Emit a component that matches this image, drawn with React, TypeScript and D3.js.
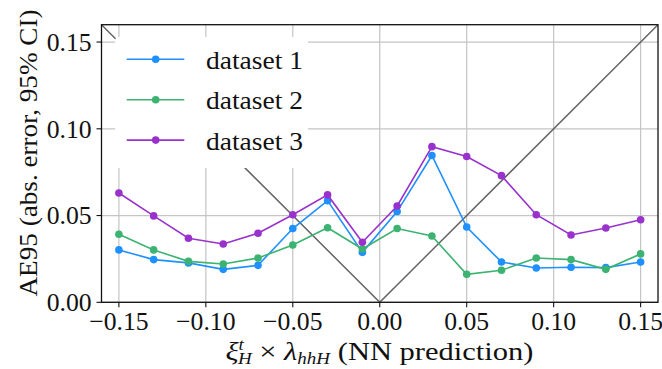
import React from "react";
import * as d3 from "d3";

const xValues = [-0.15, -0.13, -0.11, -0.09, -0.07, -0.05, -0.03, -0.01, 0.01, 0.03, 0.05, 0.07, 0.09, 0.11, 0.13, 0.15];
const dataset1 = [0.0302, 0.0246, 0.0227, 0.019, 0.0213, 0.0425, 0.0586, 0.0288, 0.0523, 0.0846, 0.0434, 0.0232, 0.0198, 0.0202, 0.02, 0.0232];
const dataset2 = [0.0392, 0.0302, 0.0236, 0.0221, 0.0255, 0.033, 0.043, 0.0307, 0.0425, 0.0382, 0.0161, 0.0185, 0.0255, 0.0246, 0.019, 0.0279];
const dataset3 = [0.063, 0.0498, 0.0369, 0.0336, 0.0398, 0.0505, 0.0619, 0.0346, 0.0555, 0.0897, 0.084, 0.073, 0.0505, 0.0388, 0.0428, 0.0476];
const seriesNames = ["dataset 1", "dataset 2", "dataset 3"];
const seriesColors = ["#1e90ff", "#3cb371", "#9932cc"];
const xTicks = [-0.15, -0.1, -0.05, 0, 0.05, 0.1, 0.15];
const yTicks = [0, 0.05, 0.1, 0.15];
const diagonalX = [-0.16, 0, 0.16];

const W = 662;
const H = 369;
const L = 101.5, R = 658, T = 24.7, B = 302.3;
const FONT = "'Liberation Serif', 'DejaVu Serif', 'Noto Serif', Tinos, 'Times New Roman', Times, FreeSerif, Georgia, serif";

export default function App() {
  const x = d3.scaleLinear().domain([-0.16, 0.16]).range([L, R]);
  const y = d3.scaleLinear().domain([0, 0.16]).range([B, T]);
  const series = [dataset1, dataset2, dataset3];
  const line = d3.line<number>().x((_, i) => x(xValues[i])).y((v) => y(v));
  const diag = d3.line<number>().x((v) => x(v)).y((v) => y(Math.abs(v)));
  const fmt = (v: number) => (v < 0 ? "\u2212" : "") + Math.abs(v).toFixed(2);
  const ts = { fontFamily: FONT } as React.CSSProperties;

  return (
    <svg width={W} height={H} style={{ position: "absolute", left: 0, top: 0, background: "#fff" }}>
      <defs>
        <clipPath id="plot">
          <rect x={L} y={T} width={R - L} height={B - T} />
        </clipPath>
      </defs>
      <rect x={0} y={0} width={W} height={H} fill="#fff" />
      {xTicks.map((t) => (
        <line key={"gx" + t} x1={x(t)} x2={x(t)} y1={T} y2={B} stroke="#c4c4c4" strokeWidth={1.2} />
      ))}
      {yTicks.map((t) => (
        <line key={"gy" + t} x1={L} x2={R} y1={y(t)} y2={y(t)} stroke="#c4c4c4" strokeWidth={1.2} />
      ))}
      <path d={diag(diagonalX) || ""} fill="none" stroke="#666" strokeWidth={1.5} clipPath="url(#plot)" />
      <g clipPath="url(#plot)">
        {series.map((s, k) => (
          <g key={k}>
            <path d={line(s) || ""} fill="none" stroke={seriesColors[k]} strokeWidth={1.6} />
            {s.map((v, i) => (
              <circle key={i} cx={x(xValues[i])} cy={y(v)} r={3.8} fill={seriesColors[k]} />
            ))}
          </g>
        ))}
      </g>
      <rect x={115} y={37} width={193} height={131} rx={4} fill="#fff" />
      {seriesNames.map((n, k) => {
        const cy = 59.3 + k * 40.4;
        return (
          <g key={n}>
            <line x1={126.7} x2={184.3} y1={cy} y2={cy} stroke={seriesColors[k]} strokeWidth={1.6} />
            <circle cx={155.7} cy={cy} r={3.8} fill={seriesColors[k]} />
            <text x={206} y={cy + 9.5} style={ts} fontSize={25.7} textLength={97} lengthAdjust="spacingAndGlyphs" fill="#111">
              {n}
            </text>
          </g>
        );
      })}
      <rect x={L} y={T} width={R - L} height={B - T} fill="none" stroke="#111" strokeWidth={1.3} />
      {xTicks.map((t) => (
        <g key={"tx" + t}>
          <line x1={x(t)} x2={x(t)} y1={B} y2={B + 5} stroke="#111" strokeWidth={1.1} />
          <text x={x(t)} y={330} textAnchor="middle" style={ts} fontSize={25.7} fill="#111">
            {fmt(t)}
          </text>
        </g>
      ))}
      {yTicks.map((t) => (
        <g key={"ty" + t}>
          <line x1={L - 5} x2={L} y1={y(t)} y2={y(t)} stroke="#111" strokeWidth={1.1} />
          <text x={91.7} y={y(t) + 8.8} textAnchor="end" style={ts} fontSize={25.7} fill="#111">
            {fmt(t)}
          </text>
        </g>
      ))}
      <text
        transform={`translate(36.5, 153) rotate(-90)`}
        textAnchor="middle"
        style={ts}
        fontSize={25.7}
        textLength={287}
        lengthAdjust="spacingAndGlyphs"
        fill="#111"
      >
        AE95 (abs. error, 95% CI)
      </text>
      <text x={379.5} y={360} textAnchor="middle" style={ts} fontSize={25.7} fill="#111" textLength={308} lengthAdjust="spacingAndGlyphs">
        <tspan fontStyle="italic">ξ</tspan>
        <tspan fontSize={16} fontStyle="italic" dy={-10}>t</tspan>
        <tspan fontSize={16} fontStyle="italic" dx={-5} dy={14}>H</tspan>
        <tspan dy={-4}> × </tspan>
        <tspan fontStyle="italic">λ</tspan>
        <tspan fontSize={16} fontStyle="italic" dy={4}>hhH</tspan>
        <tspan dy={-4}> (NN prediction)</tspan>
      </text>
    </svg>
  );
}
